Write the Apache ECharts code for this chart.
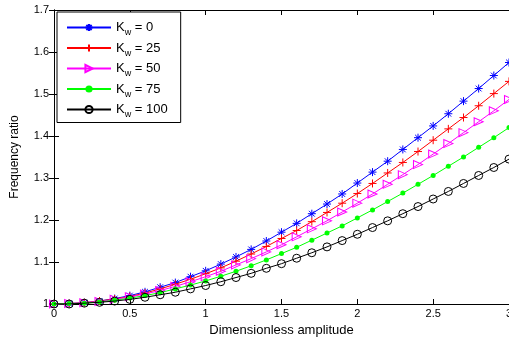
<!DOCTYPE html>
<html>
<head>
<meta charset="utf-8">
<script src="https://cdn.jsdelivr.net/npm/echarts@6/dist/echarts.min.js"></script>
<style>
html,body{margin:0;padding:0;background:#fff;}
#c{width:509px;height:339px;}
</style>
</head>
<body>
<div id="c"></div>
<script>
// Data
const amplitude = [0,0.1,0.2,0.3,0.4,0.5,0.6,0.7,0.8,0.9,1.0,1.1,1.2,1.3,1.4,1.5,1.6,1.7,1.8,1.9,2.0,2.1,2.2,2.3,2.4,2.5,2.6,2.7,2.8,2.9,3.0];
const kwLabels = ['0','25','50','75','100'];
const kw0   = [1.000,1.001,1.003,1.007,1.013,1.020,1.029,1.040,1.051,1.065,1.079,1.095,1.112,1.130,1.150,1.171,1.192,1.215,1.238,1.262,1.288,1.314,1.340,1.368,1.396,1.424,1.453,1.483,1.513,1.544,1.575];
const kw25  = [1.000,1.001,1.003,1.007,1.012,1.018,1.026,1.036,1.047,1.059,1.072,1.086,1.102,1.119,1.137,1.156,1.175,1.196,1.218,1.240,1.263,1.287,1.312,1.337,1.363,1.390,1.417,1.444,1.472,1.501,1.530];
const kw50  = [1.000,1.001,1.003,1.006,1.011,1.017,1.024,1.032,1.042,1.053,1.065,1.078,1.093,1.108,1.124,1.141,1.160,1.179,1.198,1.219,1.240,1.262,1.285,1.308,1.332,1.357,1.382,1.408,1.434,1.460,1.487];
const kw75  = [1.000,1.001,1.002,1.005,1.009,1.014,1.020,1.027,1.036,1.045,1.055,1.066,1.078,1.091,1.105,1.120,1.135,1.152,1.169,1.186,1.205,1.224,1.244,1.264,1.285,1.306,1.328,1.350,1.373,1.396,1.420];
const kw100 = [1.000,1.000,1.002,1.004,1.007,1.011,1.016,1.022,1.028,1.036,1.044,1.053,1.063,1.073,1.085,1.096,1.109,1.122,1.136,1.151,1.166,1.182,1.198,1.215,1.232,1.250,1.268,1.287,1.306,1.325,1.345];
const xTicks = [0,0.5,1,1.5,2,2.5,3];
const yTicks = [1,1.1,1.2,1.3,1.4,1.5,1.6,1.7];

const seriesValues = [kw0, kw25, kw50, kw75, kw100];
const colors = ['#0000ff','#ff0000','#ff00ff','#00ff00','#000000'];
const symbols = [
  'path://M0,-5L0,5M-5,0L5,0M-3.6,-3.6L3.6,3.6M-3.6,3.6L3.6,-3.6',
  'path://M0,-5L0,5M-5,0L5,0',
  'triangle',
  'circle',
  'circle'
];
const symbolSizes = [8, 8, [8,9], 5, 8];
const symbolRotates = [0, 0, -90, 0, 0];

const chart = echarts.init(document.getElementById('c'), null, {renderer:'canvas'});
const FONT = 'Liberation Sans, Arial, sans-serif';

const series = seriesValues.map((vals, i) => {
  const filled = (i === 3);
  return {
    name: 'Kw = ' + kwLabels[i],
    type: 'line',
    data: amplitude.map((a, j) => [a, vals[j]]),
    symbol: symbols[i],
    symbolSize: symbolSizes[i],
    symbolRotate: symbolRotates[i],
    showSymbol: true,
    showAllSymbol: true,
    lineStyle: {color: colors[i], width: 1},
    itemStyle: filled
      ? {color: colors[i], borderColor: colors[i], borderWidth: 0}
      : {color: 'rgba(0,0,0,0)', borderColor: colors[i], borderWidth: 1},
    emphasis: {disabled: true},
    z: 2 + i
  };
});

const axisCommon = {
  type: 'value',
  axisLine: {show: true, lineStyle: {color: '#000', width: 1}},
  axisTick: {show: true, inside: true, length: 5, lineStyle: {color: '#000'}},
  splitLine: {show: false}
};

chart.setOption({
  animation: false,
  backgroundColor: '#fff',
  grid: {left: 54, top: 10, width: 455, height: 294, containLabel: false, outerBoundsMode: 'none'},
  xAxis: [
    Object.assign({}, axisCommon, {
      min: xTicks[0], max: xTicks[xTicks.length-1], interval: xTicks[1]-xTicks[0],
      position: 'bottom',
      name: 'Dimensionless amplitude',
      nameLocation: 'middle', nameGap: 19,
      nameTextStyle: {fontFamily: FONT, fontSize: 13, color: '#000'},
      axisLabel: {fontFamily: FONT, fontSize: 11, color: '#000', margin: 4,
        formatter: v => String(+v.toFixed(1))}
    }),
    Object.assign({}, axisCommon, {
      min: xTicks[0], max: xTicks[xTicks.length-1], interval: xTicks[1]-xTicks[0],
      position: 'top', axisLabel: {show: false}
    })
  ],
  yAxis: [
    Object.assign({}, axisCommon, {
      min: yTicks[0], max: yTicks[yTicks.length-1], interval: 0.1,
      position: 'left',
      name: 'Frequency ratio',
      nameLocation: 'middle', nameGap: 33, nameRotate: 90,
      nameTextStyle: {fontFamily: FONT, fontSize: 12, color: '#000'},
      axisLabel: {fontFamily: FONT, fontSize: 11, color: '#000', margin: 5,
        formatter: v => String(+v.toFixed(1))}
    }),
    Object.assign({}, axisCommon, {
      min: yTicks[0], max: yTicks[yTicks.length-1], interval: 0.1,
      position: 'right', axisLabel: {show: false}
    })
  ],
  legend: {
    orient: 'vertical',
    left: 57, top: 12,
    padding: [9, 13, 3, 9],
    itemGap: 4,
    itemWidth: 44, itemHeight: 9,
    borderColor: '#000', borderWidth: 1,
    backgroundColor: '#fff',
    borderRadius: 0,
    selectedMode: false,
    data: series.map(s => s.name),
    formatter: n => '{k|K}{s|w}{k|' + n.slice(2) + '}',
    textStyle: {
      fontFamily: FONT, color: '#000',
      rich: {
        k: {fontFamily: FONT, fontSize: 13, color: '#000', lineHeight: 14},
        s: {fontFamily: FONT, fontSize: 9, color: '#000', lineHeight: 9, verticalAlign: 'bottom', padding: [0,0,-3,0]}
      }
    }
  },
  series: series
});
</script>
</body>
</html>
